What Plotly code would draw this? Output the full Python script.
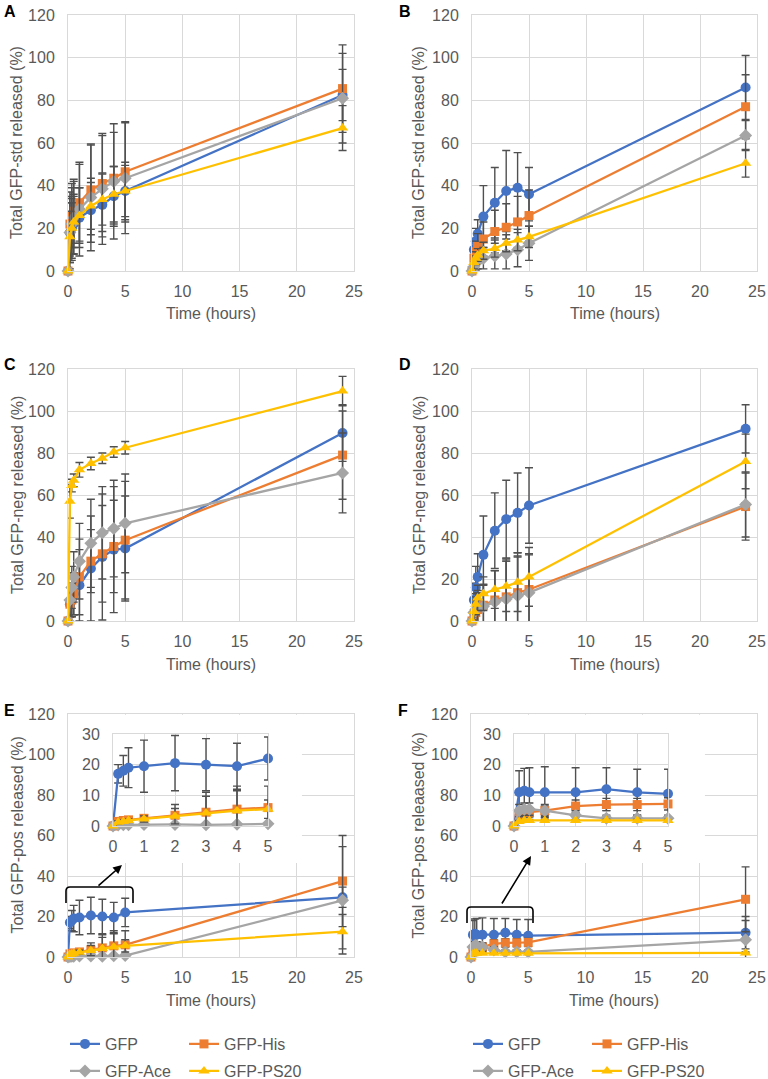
import plotly.graph_objects as go

W, H = 768, 1079

HOURS = [0, 1 / 6, 1 / 3, 0.5, 1, 2, 3, 4, 5, 24]
SERIES = ["GFP", "GFP-His", "GFP-Ace", "GFP-PS20"]
COLORS = ["#4472C4", "#ED7D31", "#A5A5A5", "#FFC000"]
SYMBOLS = ["circle", "square", "diamond", "triangle-up"]
SIZES = [10, 9, 10, 10]

# Panel A: GFP-std, left column
A_GFP = [0, 18, 20, 22, 25, 28.5, 31, 35, 37.5, 82.5]
A_GFP_ERR = [0, 14, 14, 14, 14, 15, 15, 14, 13.5, 12]
A_HIS = [0, 22, 26, 28, 32, 38, 41, 43.5, 46.5, 85.5]
A_HIS_ERR = [0, 15, 15, 15, 18, 21, 22.5, 21.5, 23.5, 20.5]
A_ACE = [0, 18, 22, 25, 29, 34.5, 38.5, 42, 43.5, 81]
A_ACE_ERR = [0, 17, 17, 17, 22, 25, 26, 27, 26, 21]
A_PS20 = [0, 16, 20, 23, 26, 30.5, 33.5, 36, 37.5, 67]
A_PS20_ERR = [0, 12, 12, 12, 13, 11, 12, 13, 12, 10.5]

# Panel B: GFP-std, right column
B_GFP = [0, 10, 14, 17.5, 25.5, 32, 37.5, 39, 36, 86]
B_GFP_ERR = [0, 5, 6, 6.5, 14.5, 16.5, 19, 16.5, 12.5, 15]
B_HIS = [0, 6, 9, 11.5, 15, 18.5, 20.5, 23, 26, 77]
B_HIS_ERR = [0, 4, 5, 6, 8, 10, 11, 12, 12, 15]
B_ACE = [0, 2, 3.5, 5, 6, 7, 8, 10, 13, 63.5]
B_ACE_ERR = [0, 2, 3, 4, 5, 6, 7, 8, 8, 7]
B_PS20 = [0, 4, 6, 7.5, 9.5, 10.5, 13, 14.5, 16, 50.5]
B_PS20_ERR = [0, 3, 3, 3, 4, 4, 4, 5, 5, 6.5]

# Panel C: GFP-neg, left column
C_GFP = [0, 8, 10, 13, 17, 25, 30.5, 34, 34.5, 89.5]
C_GFP_ERR = [0, 6, 8, 10, 17, 25, 30, 30, 25, 13.5]
C_HIS = [0, 8, 10, 13, 21, 28.5, 32, 35.5, 38.5, 79]
C_HIS_ERR = [0, 6, 8, 10, 18, 15, 23, 22, 28, 21]
C_ACE = [0, 10, 16, 21, 28.5, 37, 42, 44, 46.5, 70.5]
C_ACE_ERR = [0, 8, 10, 12, 18, 21, 22, 23, 23.5, 19]
C_PS20 = [0, 57, 64.5, 67, 72, 75, 77.5, 80.5, 82.5, 109.5]
C_PS20_ERR = [0, 8, 3, 3, 3.5, 3, 2.5, 2.5, 3, 7]

# Panel D: GFP-neg, right column
D_GFP = [0, 10, 16, 21, 31.5, 43, 48.5, 51.5, 55, 91.5]
D_GFP_ERR = [0, 8, 10, 11, 18.5, 18, 18.5, 19, 18, 11.5]
D_HIS = [0, 2, 4, 5.5, 7.5, 10, 11.5, 13.5, 15, 54.5]
D_HIS_ERR = [0, 4, 6, 8, 10, 14, 17, 17, 17, 16]
D_ACE = [0, 4, 5.5, 6.5, 7, 9, 10.5, 12, 13.5, 55.5]
D_ACE_ERR = [0, 4, 6, 8, 10, 15, 19, 19, 18, 15.5]
D_PS20 = [0, 4.5, 8, 11, 13, 15, 16.5, 18.5, 21, 76]
D_PS20_ERR = [0, 4, 5, 6, 8, 9, 12, 14, 14, 13]

# Panel E: GFP-pos, left column
E_GFP = [0, 17, 18, 19, 19.5, 20.5, 20, 19.5, 22, 29.5]
E_GFP_ERR = [0, 3, 5, 6.5, 8.5, 9, 8.5, 7.5, 7, 5]
E_HIS = [0, 1.5, 1.8, 2, 2.5, 3.5, 4.5, 5.5, 6, 37.5]
E_HIS_ERR = [0, 0.5, 0.5, 0.5, 1, 3.5, 6.5, 7.5, 7, 22.5]
E_ACE = [0, 0.3, 0.4, 0.4, 0.5, 0.5, 0.4, 0.6, 0.7, 28]
E_ACE_ERR = [0, 0.2, 0.2, 0.2, 0.3, 0.3, 0.3, 0.3, 0.3, 26.5]
E_PS20 = [0, 1.2, 1.5, 1.8, 2.3, 3.2, 4.2, 5, 5.5, 12.5]
E_PS20_ERR = [0, 0.5, 0.5, 0.5, 1, 2.5, 5.5, 6.5, 3, 8.5]

# Panel F: GFP-pos, right column
F_GFP = [0, 11, 11.5, 11, 11, 11, 12, 11, 10.5, 12]
F_GFP_ERR = [0, 7, 7.3, 8, 8.3, 8, 7, 7.5, 8, 8]
F_HIS = [0, 3.5, 4.5, 4.5, 5, 6.5, 7, 7, 7.2, 28.5]
F_HIS_ERR = [0, 1.5, 1.5, 1.5, 1.5, 2, 2, 2, 2, 16]
F_ACE = [0, 5, 5.5, 5.5, 5, 3.5, 2.5, 2.5, 2.5, 8.5]
F_ACE_ERR = [0, 2, 2, 2, 2, 1.5, 1, 1, 1, 9.5]
F_PS20 = [0, 1.5, 1.8, 1.8, 1.8, 1.8, 1.8, 1.8, 1.8, 2]
F_PS20_ERR = [0, 0.3, 0.3, 0.3, 0.3, 0.3, 0.3, 0.3, 0.3, 0.5]

Y_TITLES = [
    "Total GFP-std released (%)",
    "Total GFP-std released (%)",
    "Total GFP-neg released (%)",
    "Total GFP-neg released (%)",
    "Total GFP-pos released (%)",
    "Total GFP-pos releaased (%)",
]
PANEL_LABELS = ["A", "B", "C", "D", "E", "F"]

PANEL_DATA = [
    [(A_GFP, A_GFP_ERR), (A_HIS, A_HIS_ERR), (A_ACE, A_ACE_ERR), (A_PS20, A_PS20_ERR)],
    [(B_GFP, B_GFP_ERR), (B_HIS, B_HIS_ERR), (B_ACE, B_ACE_ERR), (B_PS20, B_PS20_ERR)],
    [(C_GFP, C_GFP_ERR), (C_HIS, C_HIS_ERR), (C_ACE, C_ACE_ERR), (C_PS20, C_PS20_ERR)],
    [(D_GFP, D_GFP_ERR), (D_HIS, D_HIS_ERR), (D_ACE, D_ACE_ERR), (D_PS20, D_PS20_ERR)],
    [(E_GFP, E_GFP_ERR), (E_HIS, E_HIS_ERR), (E_ACE, E_ACE_ERR), (E_PS20, E_PS20_ERR)],
    [(F_GFP, F_GFP_ERR), (F_HIS, F_HIS_ERR), (F_ACE, F_ACE_ERR), (F_PS20, F_PS20_ERR)],
]

# plot areas in page pixels: (left, right, top, bottom)
BOXES = [
    (68, 354, 15, 271),
    (472, 757, 15, 271),
    (68, 354, 369, 621),
    (472, 757, 369, 621),
    (68, 354, 714, 957),
    (471, 757, 714, 957),
]
INSET_BOXES = [(113, 268, 734, 826), (514, 668, 734, 826)]

FONT = "Liberation Sans, Arial, sans-serif"
GREY_TEXT = "#595959"
GRID = "#D9D9D9"
TICK_SIZE = 16
TITLE_SIZE = 16


def px(x):
    return x / W


def py(y):
    return 1 - y / H


def axis_style(**kw):
    style = dict(
        showgrid=True,
        gridcolor=GRID,
        gridwidth=1,
        showline=True,
        mirror=True,
        linecolor=GRID,
        linewidth=1,
        zeroline=False,
        ticks="",
        tickfont=dict(family=FONT, size=TICK_SIZE, color=GREY_TEXT),
        fixedrange=True,
        automargin=False,
        ticklabeloverflow="allow",
    )
    style.update(kw)
    return style


def add_series(fig, xs, data, ax, legend_ids=None):
    for i, (vals, errs) in enumerate(data):
        show = legend_ids is not None
        fig.add_trace(
            go.Scatter(
                x=xs,
                y=vals,
                error_y=dict(
                    type="data",
                    array=errs,
                    visible=True,
                    color="#505050",
                    thickness=1.4,
                    width=4,
                ),
                mode="lines+markers",
                name=SERIES[i],
                line=dict(color=COLORS[i], width=2.25),
                marker=dict(symbol=SYMBOLS[i], size=SIZES[i], color=COLORS[i]),
                xaxis="x" + ax,
                yaxis="y" + ax,
                cliponaxis=False,
                showlegend=show,
                legend=legend_ids[i] if show else "legend",
            )
        )


fig = go.Figure()
layout = {}
annotations = []
shapes = []

for p, (l, r, t, b) in enumerate(BOXES):
    ax = "" if p == 0 else str(p + 1)
    right_col = p % 2 == 1
    legend_ids = None
    if p == 4:
        legend_ids = ["legend", "legend", "legend2", "legend2"]
    elif p == 5:
        legend_ids = ["legend3", "legend3", "legend4", "legend4"]
    add_series(fig, HOURS, PANEL_DATA[p], ax, legend_ids)

    layout["xaxis" + ax] = axis_style(
        domain=[px(l), px(r)],
        anchor="y" + ax,
        range=[0, 25],
        tick0=0,
        dtick=5,
        ticklabelstandoff=6,
    )
    layout["yaxis" + ax] = axis_style(
        domain=[py(b), py(t)],
        anchor="x" + ax,
        range=[0, 120],
        tick0=0,
        dtick=20,
        ticklabelstandoff=9,
    )
    # axis titles
    annotations.append(
        dict(
            text="Time (hours)",
            x=px((l + r) / 2),
            y=py(b + 43),
            xref="paper",
            yref="paper",
            showarrow=False,
            font=dict(family=FONT, size=TITLE_SIZE, color=GREY_TEXT),
            xanchor="center",
            yanchor="middle",
        )
    )
    annotations.append(
        dict(
            text=Y_TITLES[p],
            x=px(l - (53 if right_col else 51)),
            y=py((t + b) / 2),
            xref="paper",
            yref="paper",
            showarrow=False,
            textangle=-90,
            font=dict(family=FONT, size=TITLE_SIZE, color=GREY_TEXT),
            xanchor="center",
            yanchor="middle",
        )
    )
    annotations.append(
        dict(
            text="<b>" + PANEL_LABELS[p] + "</b>",
            x=px(l - (75 if right_col else 66)),
            y=py(t - 4),
            xref="paper",
            yref="paper",
            showarrow=False,
            font=dict(family=FONT, size=16, color="black"),
            xanchor="left",
            yanchor="middle",
        )
    )

# insets for panels E and F (first 5 hours)
for k, (l, r, t, b) in enumerate(INSET_BOXES):
    main_ax = str(5 + k)
    ax = str(7 + k)
    # white box hiding the main grid behind the inset
    shapes.append(
        dict(
            type="rect",
            xref="x" + main_ax,
            yref="y" + main_ax,
            x0=0,
            x1=20.45,
            y0=46.4,
            y1=119.6,
            fillcolor="white",
            line=dict(width=0),
            layer="between",
        )
    )
    add_series(
        fig,
        HOURS[:9],
        [(v[:9], e[:9]) for v, e in PANEL_DATA[4 + k]],
        ax,
    )
    layout["xaxis" + ax] = axis_style(
        domain=[px(l), px(r)],
        anchor="y" + ax,
        range=[0, 5],
        tick0=0,
        dtick=1,
        ticklabelstandoff=6,
    )
    layout["yaxis" + ax] = axis_style(
        domain=[py(b), py(t)],
        anchor="x" + ax,
        range=[0, 30],
        tick0=0,
        dtick=10,
        ticklabelstandoff=9,
    )

# brackets + arrows pointing at the insets
BRACKETS = [((66, 133, 887, 903), (122, 865, 97, 887)), ((467, 533, 907, 923), (531, 856, 501, 905))]
for (x0, x1, yt, yb), (hx, hy, tx, ty) in BRACKETS:
    rr = 4
    path = (
        f"M {px(x0)},{py(yb)} L {px(x0)},{py(yt + rr)} "
        f"Q {px(x0)},{py(yt)} {px(x0 + rr)},{py(yt)} "
        f"L {px(x1 - rr)},{py(yt)} Q {px(x1)},{py(yt)} {px(x1)},{py(yt + rr)} "
        f"L {px(x1)},{py(yb)}"
    )
    shapes.append(
        dict(type="path", path=path, xref="paper", yref="paper", line=dict(color="black", width=1.6))
    )
    annotations.append(
        dict(
            text="",
            x=px(hx),
            y=py(hy),
            xref="paper",
            yref="paper",
            ax=tx - hx,
            ay=ty - hy,
            showarrow=True,
            arrowhead=2,
            arrowsize=1.1,
            arrowwidth=1.6,
            arrowcolor="black",
        )
    )

legend_common = dict(
    orientation="h",
    xanchor="left",
    yanchor="middle",
    entrywidth=74,
    entrywidthmode="pixels",
    font=dict(family=FONT, size=16, color=GREY_TEXT),
    bgcolor="rgba(0,0,0,0)",
    itemwidth=30,
    borderwidth=0,
)
layout["legend"] = dict(legend_common, x=px(65), y=py(1044))
layout["legend2"] = dict(legend_common, x=px(65), y=py(1071))
layout["legend3"] = dict(legend_common, x=px(468), y=py(1044))
layout["legend4"] = dict(legend_common, x=px(468), y=py(1071))

fig.update_layout(
    width=W,
    height=H,
    margin=dict(l=0, r=0, t=0, b=0, autoexpand=False),
    paper_bgcolor="white",
    plot_bgcolor="white",
    font=dict(family=FONT, size=15, color=GREY_TEXT),
    annotations=annotations,
    shapes=shapes,
    **layout,
)

# drop the browser's default 8 px body margin so the figure fills the page
fig.write_html(
    "out.html",
    config={"displayModeBar": False},
    post_script="document.body.style.margin='0';document.body.style.overflow='hidden';",
)
